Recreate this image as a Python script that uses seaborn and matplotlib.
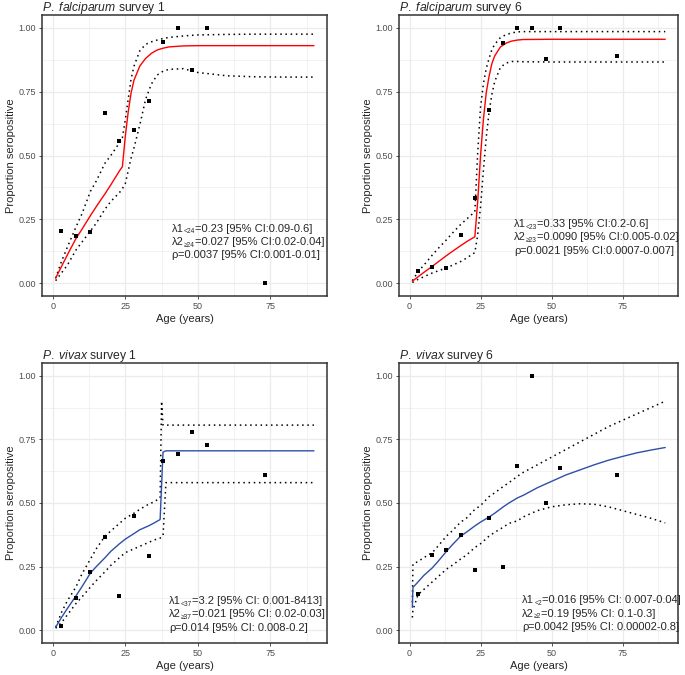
import matplotlib
matplotlib.use('Agg')
import matplotlib.pyplot as plt
import seaborn as sns

# --- observed seroprevalence by age group (midpoints) ---
obs_age = [3, 8, 13, 18, 23, 28, 33, 38, 43, 48, 53, 73]
pf1_obs = [0.203, 0.183, 0.20, 0.666, 0.558, 0.60, 0.714, 0.946, 1.0, 0.833, 1.0, 0.0]
pf6_obs = [0.047, 0.063, 0.06, 0.187, 0.333, 0.68, 0.94, 1.0, 1.0, 0.876, 1.0, 0.889]
pv1_obs = [0.017, 0.128, 0.23, 0.368, 0.135, 0.447, 0.293, 0.666, 0.692, 0.777, 0.726, 0.611]
pv6_obs = [0.142, 0.296, 0.315, 0.375, 0.237, 0.44, 0.25, 0.646, 1.0, 0.5, 0.637, 0.611]

# --- fitted curves + 95% CI ---
pf1_age = [1, 3, 5, 8, 10, 13, 15, 18, 20, 23, 24, 25, 26, 27, 28, 30, 32, 34, 36, 38, 40, 45, 50, 60, 70, 80, 90]
pf1_fit = [0.02, 0.065, 0.11, 0.175, 0.21, 0.265, 0.30, 0.35, 0.385, 0.44, 0.456, 0.575, 0.67, 0.745, 0.795,
           0.85, 0.88, 0.90, 0.913, 0.92, 0.925, 0.929, 0.93, 0.93, 0.93, 0.93, 0.93]
pf1_hi = [0.02, 0.085, 0.14, 0.22, 0.27, 0.36, 0.40, 0.47, 0.50, 0.55, 0.57, 0.64, 0.72, 0.80, 0.85,
          0.91, 0.935, 0.945, 0.952, 0.958, 0.962, 0.968, 0.972, 0.974, 0.975, 0.975, 0.975]
pf1_lo = [0.01, 0.04, 0.07, 0.13, 0.16, 0.205, 0.235, 0.29, 0.32, 0.355, 0.37, 0.39, 0.44, 0.49, 0.53,
          0.62, 0.72, 0.78, 0.815, 0.83, 0.837, 0.84, 0.825, 0.812, 0.808, 0.807, 0.807]

pf6_age = [1, 3, 5, 8, 10, 13, 15, 18, 20, 23, 24, 25, 26, 27, 28, 29, 30, 32, 34, 36, 38, 40, 50, 60, 70, 80, 90]
pf6_fit = [0.008, 0.025, 0.042, 0.066, 0.083, 0.108, 0.124, 0.147, 0.162, 0.182, 0.32, 0.50, 0.64, 0.745,
           0.81, 0.86, 0.89, 0.925, 0.94, 0.948, 0.952, 0.954, 0.955, 0.955, 0.955, 0.955, 0.955]
pf6_hi = [0.01, 0.045, 0.07, 0.11, 0.135, 0.17, 0.195, 0.23, 0.25, 0.28, 0.51, 0.69, 0.78, 0.84,
          0.88, 0.915, 0.935, 0.962, 0.973, 0.98, 0.984, 0.985, 0.985, 0.985, 0.985, 0.985, 0.985]
pf6_lo = [0.003, 0.015, 0.025, 0.04, 0.048, 0.06, 0.07, 0.085, 0.098, 0.12, 0.19, 0.30, 0.44, 0.57,
          0.67, 0.74, 0.79, 0.845, 0.862, 0.868, 0.868, 0.867, 0.866, 0.866, 0.866, 0.866, 0.866]

pv1_age = [1, 3, 5, 8, 10, 13, 15, 18, 20, 23, 25, 28, 30, 33, 35, 37, 37.5, 38, 39, 50, 60, 70, 80, 90]
pv1_fit = [0.012, 0.05, 0.085, 0.135, 0.17, 0.225, 0.25, 0.285, 0.31, 0.34, 0.358, 0.38, 0.395, 0.41,
           0.422, 0.435, 0.57, 0.70, 0.705, 0.705, 0.705, 0.705, 0.705, 0.705]
pv1_hi = [0.012, 0.07, 0.115, 0.17, 0.22, 0.28, 0.32, 0.37, 0.39, 0.42, 0.44, 0.46, 0.475, 0.495,
          0.505, 0.52, 0.90, 0.806, 0.806, 0.806, 0.806, 0.806, 0.806, 0.806]
pv1_lo = [0.008, 0.03, 0.06, 0.105, 0.13, 0.17, 0.195, 0.23, 0.255, 0.285, 0.305, 0.32, 0.33, 0.345,
          0.355, 0.362, 0.366, 0.37, 0.58, 0.58, 0.58, 0.58, 0.58, 0.58]

pv6_age = [1, 1.2, 3, 5, 8, 10, 13, 15, 18, 20, 23, 25, 28, 30, 33, 35, 38, 40, 45, 50, 55, 60, 65, 70, 75, 80, 85, 90]
pv6_fit = [0.09, 0.168, 0.19, 0.215, 0.245, 0.27, 0.31, 0.335, 0.37, 0.385, 0.41, 0.425, 0.445, 0.46,
           0.485, 0.50, 0.52, 0.53, 0.56, 0.585, 0.61, 0.63, 0.65, 0.668, 0.683, 0.697, 0.708, 0.718]
pv6_hi = [0.11, 0.26, 0.27, 0.285, 0.305, 0.33, 0.37, 0.39, 0.425, 0.44, 0.475, 0.49, 0.525, 0.54,
          0.565, 0.58, 0.605, 0.62, 0.65, 0.68, 0.71, 0.74, 0.77, 0.80, 0.825, 0.85, 0.875, 0.90]
pv6_lo = [0.05, 0.08, 0.14, 0.16, 0.19, 0.21, 0.24, 0.255, 0.28, 0.295, 0.325, 0.34, 0.37, 0.385,
          0.405, 0.42, 0.43, 0.445, 0.47, 0.485, 0.493, 0.497, 0.495, 0.485, 0.47, 0.455, 0.44, 0.422]

titles = [r"$\mathit{P.\ falciparum}$ survey 1", r"$\mathit{P.\ falciparum}$ survey 6",
          r"$\mathit{P.\ vivax}$ survey 1", r"$\mathit{P.\ vivax}$ survey 6"]

# (symbol, subscript, rest) for each annotation line
pf1_txt = [("λ1", "<24", "=0.23 [95% CI:0.09-0.6]"), ("λ2", "≥24", "=0.027 [95% CI:0.02-0.04]"),
           ("ρ", "", "=0.0037 [95% CI:0.001-0.01]")]
pf6_txt = [("λ1", "<23", "=0.33 [95% CI:0.2-0.6]"), ("λ2", "≥23", "=0.0090 [95% CI:0.005-0.02]"),
           ("ρ", "", "=0.0021 [95% CI:0.0007-0.007]")]
pv1_txt = [("λ1", "<37", "=3.2 [95% CI: 0.001-8413]"), ("λ2", "≥37", "=0.021 [95% CI: 0.02-0.03]"),
           ("ρ", "", "=0.014 [95% CI: 0.008-0.2]")]
pv6_txt = [("λ1", "<2", "=0.016 [95% CI: 0.007-0.04]"), ("λ2", "≥2", "=0.19 [95% CI: 0.1-0.3]"),
           ("ρ", "", "=0.0042 [95% CI: 0.00002-0.8]")]

x_ticks = [0, 25, 50, 75]
y_ticks = [0, 0.25, 0.5, 0.75, 1.0]
y_ticklabels = ['0.00', '0.25', '0.50', '0.75', '1.00']

RED = '#FF0000'
BLUE = '#2D4FA8'

sns.set_style('white')
plt.rcParams['font.family'] = ['Liberation Sans', 'DejaVu Sans']
plt.rcParams['mathtext.fontset'] = 'custom'
plt.rcParams['mathtext.rm'] = 'Liberation Sans'
plt.rcParams['mathtext.it'] = 'Liberation Sans:italic'
plt.rcParams['mathtext.bf'] = 'Liberation Sans:bold'

fig = plt.figure(figsize=(6.85, 6.75), dpi=100)

W, H = 685, 675
boxes = [(42, 15, 285, 281), (399, 15, 279, 281), (42, 363, 285, 280), (399, 363, 279, 280)]

panels = [
    (obs_age, pf1_obs, pf1_age, pf1_fit, pf1_lo, pf1_hi, RED, pf1_txt, 41, 0.202),
    (obs_age, pf6_obs, pf6_age, pf6_fit, pf6_lo, pf6_hi, RED, pf6_txt, 36.7, 0.220),
    (obs_age, pv1_obs, pv1_age, pv1_fit, pv1_lo, pv1_hi, BLUE, pv1_txt, 40, 0.103),
    (obs_age, pv6_obs, pv6_age, pv6_fit, pv6_lo, pv6_hi, BLUE, pv6_txt, 39.6, 0.106),
]

dotted = (0, (1, 2.4))


def stat_label(ax, x, y, sym, sub, rest, size=8):
    """Write 'sym_sub rest' with a small lowered subscript, without mathtext spacing."""
    t1 = ax.text(x, y, sym, fontsize=size, va='baseline', ha='left')
    anchor = t1
    if sub:
        anchor = ax.annotate(sub, xy=(1, 0), xycoords=t1, xytext=(0.2, -1.2),
                             textcoords='offset points', fontsize=size * 0.6,
                             va='bottom', ha='left')
    ax.annotate(rest, xy=(1, 0), xycoords=(anchor, t1), va='bottom', ha='left',
                fontsize=size)


for (l, t, w, h), title, p in zip(boxes, titles, panels):
    ax = fig.add_axes([l / W, 1 - (t + h) / H, w / W, h / H])
    oa, ov, ca, fit, lo, hi, col, txt, tx, ty = p

    sns.lineplot(x=ca, y=hi, ax=ax, color='black', lw=1.1, linestyle=dotted, estimator=None)
    sns.lineplot(x=ca, y=lo, ax=ax, color='black', lw=1.1, linestyle=dotted, estimator=None)
    sns.lineplot(x=ca, y=fit, ax=ax, color=col, lw=1.0, estimator=None)
    sns.scatterplot(x=oa, y=ov, ax=ax, color='black', marker='s', s=7, linewidth=0, zorder=5)

    for i, (sym, sub, rest) in enumerate(txt):
        stat_label(ax, tx, ty - i * 0.052, sym, sub, rest)

    ax.set_xlim(-3.7, 94.5)
    ax.set_ylim(-0.05, 1.05)
    ax.set_xticks(x_ticks)
    ax.set_xticks([12.5, 37.5, 62.5, 87.5], minor=True)
    ax.set_yticks(y_ticks)
    ax.set_yticklabels(y_ticklabels)
    ax.set_yticks([0.125, 0.375, 0.625, 0.875], minor=True)
    ax.grid(which='major', color='#EBEBEB', lw=0.9)
    ax.grid(which='minor', color='#EBEBEB', lw=0.45)
    ax.set_axisbelow(True)
    ax.tick_params(which='major', length=2.5, width=0.6, color='#333333',
                   labelsize=6.5, labelcolor='#4D4D4D', pad=2, bottom=True, left=True)
    ax.tick_params(which='minor', length=0)
    for s in ax.spines.values():
        s.set_color('#333333')
        s.set_linewidth(1.1)
    ax.set_xlabel('Age (years)', fontsize=8, labelpad=2)
    ax.set_ylabel('Proportion seropositive', fontsize=8, labelpad=1.5)
    ax.set_title(title, loc='left', fontsize=8.7, pad=3)

fig.savefig('out.png', dpi=100)
